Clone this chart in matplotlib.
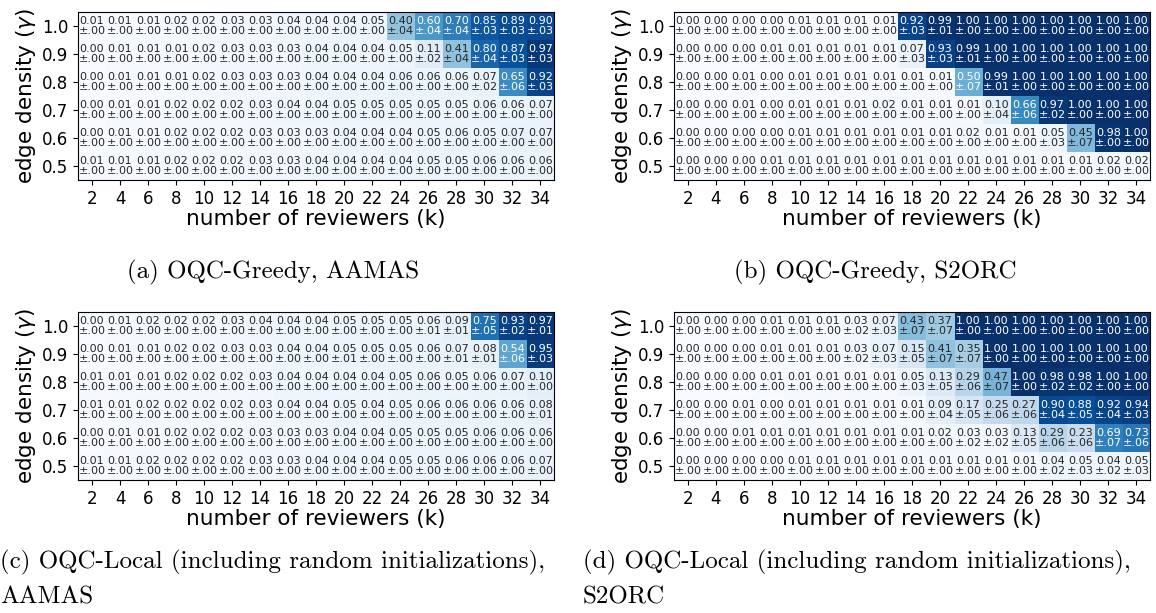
import numpy as np
import matplotlib
matplotlib.use('Agg')
import matplotlib.pyplot as plt
from matplotlib.colors import Normalize, to_rgb

# axes
k_values = [2, 4, 6, 8, 10, 12, 14, 16, 18, 20, 22, 24, 26, 28, 30, 32, 34]
gamma_values = [1.0, 0.9, 0.8, 0.7, 0.6, 0.5]

# (a) OQC-Greedy, AAMAS
greedy_aamas_mean = [
    [.01, .01, .01, .02, .02, .03, .03, .04, .04, .04, .05, .40, .60, .70, .85, .89, .90],
    [.00, .01, .01, .01, .02, .03, .03, .03, .04, .04, .04, .05, .11, .41, .80, .87, .97],
    [.00, .01, .01, .01, .02, .03, .03, .03, .04, .04, .04, .06, .06, .06, .07, .65, .92],
    [.00, .01, .01, .02, .02, .02, .03, .04, .04, .05, .05, .05, .05, .05, .06, .06, .07],
    [.00, .01, .01, .02, .02, .02, .03, .03, .03, .04, .04, .04, .05, .06, .05, .07, .07],
    [.01, .01, .01, .02, .02, .02, .03, .03, .04, .04, .04, .04, .05, .05, .06, .06, .06],
]
greedy_aamas_std = [
    [0, 0, 0, 0, 0, 0, 0, 0, 0, 0, 0, .04, .04, .04, .03, .03, .03],
    [0, 0, 0, 0, 0, 0, 0, 0, 0, 0, 0, 0, .02, .04, .04, .03, .03],
    [0, 0, 0, 0, 0, 0, 0, 0, 0, 0, 0, 0, 0, 0, .02, .06, .03],
    [0, 0, 0, 0, 0, 0, 0, 0, 0, 0, 0, 0, 0, 0, 0, 0, 0],
    [0, 0, 0, 0, 0, 0, 0, 0, 0, 0, 0, 0, 0, 0, 0, 0, 0],
    [0, 0, 0, 0, 0, 0, 0, 0, 0, 0, 0, 0, 0, 0, 0, 0, 0],
]

# (b) OQC-Greedy, S2ORC
greedy_s2orc_mean = [
    [.00, .00, .00, .00, .01, .01, .01, .01, .92, .99, 1.0, 1.0, 1.0, 1.0, 1.0, 1.0, 1.0],
    [.00, .00, .00, .01, .01, .01, .01, .01, .07, .93, .99, 1.0, 1.0, 1.0, 1.0, 1.0, 1.0],
    [.00, .00, .01, .00, .01, .01, .01, .01, .01, .01, .50, .99, 1.0, 1.0, 1.0, 1.0, 1.0],
    [.00, .00, .01, .00, .01, .01, .01, .02, .01, .01, .01, .10, .66, .97, 1.0, 1.0, 1.0],
    [.00, .00, .00, .00, .01, .01, .01, .01, .01, .01, .02, .01, .01, .05, .45, .98, 1.0],
    [.00, .00, .00, .01, .01, .01, .01, .01, .01, .01, .01, .01, .01, .01, .01, .02, .02],
]
greedy_s2orc_std = [
    [0, 0, 0, 0, 0, 0, 0, 0, .03, .01, 0, 0, 0, 0, 0, 0, 0],
    [0, 0, 0, 0, 0, 0, 0, 0, .03, .03, .01, 0, 0, 0, 0, 0, 0],
    [0, 0, 0, 0, 0, 0, 0, 0, 0, 0, .07, .01, 0, 0, 0, 0, 0],
    [0, 0, 0, 0, 0, 0, 0, 0, 0, 0, 0, .04, .06, .02, 0, 0, 0],
    [0, 0, 0, 0, 0, 0, 0, 0, 0, 0, 0, 0, 0, .03, .07, 0, 0],
    [0, 0, 0, 0, 0, 0, 0, 0, 0, 0, 0, 0, 0, 0, 0, 0, 0],
]

# (c) OQC-Local, AAMAS
local_aamas_mean = [
    [.00, .01, .02, .02, .02, .03, .04, .04, .04, .05, .05, .05, .06, .09, .75, .93, .97],
    [.00, .01, .01, .02, .02, .03, .03, .04, .04, .05, .05, .05, .06, .07, .08, .54, .95],
    [.01, .01, .01, .02, .02, .02, .03, .04, .04, .04, .04, .05, .06, .05, .06, .07, .10],
    [.01, .01, .02, .02, .02, .02, .03, .04, .04, .05, .04, .05, .06, .06, .06, .06, .08],
    [.00, .01, .01, .02, .02, .02, .03, .03, .03, .04, .04, .05, .05, .05, .06, .06, .06],
    [.01, .01, .02, .02, .02, .02, .03, .03, .04, .04, .04, .05, .05, .06, .06, .06, .07],
]
local_aamas_std = [
    [0, 0, 0, 0, 0, 0, 0, 0, 0, 0, 0, 0, .01, .01, .05, .02, .01],
    [0, 0, 0, 0, 0, 0, 0, 0, 0, .01, 0, 0, 0, .01, .01, .06, .03],
    [0, 0, 0, 0, 0, 0, 0, 0, 0, 0, 0, 0, 0, 0, 0, 0, 0],
    [0, 0, 0, 0, 0, 0, 0, 0, 0, 0, 0, 0, 0, 0, 0, 0, .01],
    [0, 0, 0, 0, 0, 0, 0, 0, 0, 0, 0, 0, 0, 0, 0, 0, 0],
    [0, 0, 0, 0, 0, 0, 0, 0, 0, 0, 0, 0, 0, 0, 0, 0, 0],
]

# (d) OQC-Local, S2ORC
local_s2orc_mean = [
    [.00, .00, .00, .01, .01, .01, .03, .07, .43, .37, 1.0, 1.0, 1.0, 1.0, 1.0, 1.0, 1.0],
    [.00, .00, .00, .01, .01, .01, .03, .07, .15, .41, .35, 1.0, 1.0, 1.0, 1.0, 1.0, 1.0],
    [.00, .00, .00, .01, .01, .01, .01, .01, .05, .13, .29, .47, 1.0, .98, .98, 1.0, 1.0],
    [.00, .00, .01, .00, .01, .01, .01, .01, .01, .09, .17, .25, .27, .90, .88, .92, .94],
    [.00, .00, .01, .01, .01, .01, .01, .01, .01, .02, .03, .03, .13, .29, .23, .69, .73],
    [.00, .00, .00, .00, .01, .01, .01, .01, .01, .01, .01, .01, .01, .04, .05, .04, .05],
]
local_s2orc_std = [
    [0, 0, 0, 0, 0, 0, .02, .03, .07, .07, 0, 0, 0, 0, 0, 0, 0],
    [0, 0, 0, 0, 0, 0, .02, .03, .05, .07, .07, 0, 0, 0, 0, 0, 0],
    [0, 0, 0, 0, 0, 0, 0, 0, .03, .05, .06, .07, 0, .02, .02, 0, 0],
    [0, 0, 0, 0, 0, 0, 0, 0, 0, .04, .05, .06, .06, .04, .05, .04, .03],
    [0, 0, 0, 0, 0, 0, 0, 0, 0, 0, .02, .02, .05, .06, .06, .07, .06],
    [0, 0, 0, 0, 0, 0, 0, 0, 0, 0, 0, 0, 0, .02, .03, .02, .03],
]

panels = [
    (greedy_aamas_mean, greedy_aamas_std),
    (greedy_s2orc_mean, greedy_s2orc_std),
    (local_aamas_mean, local_aamas_std),
    (local_s2orc_mean, local_s2orc_std),
]

cmap = plt.get_cmap('Blues')
norm = Normalize(0, 1)


def luminance(c):
    rgb = np.array(to_rgb(c))
    rgb = np.where(rgb <= .03928, rgb / 12.92, ((rgb + .055) / 1.055) ** 2.4)
    return rgb.dot([.2126, .7152, .0722])


fig = plt.figure(figsize=(11.56, 6.13), dpi=100)

# axes positions (left, bottom) in figure fractions
positions = [(0.0675, 0.706), (0.583, 0.706), (0.0675, 0.217), (0.583, 0.217)]
w, h = 0.412, 0.274

for (mean, std), (x0, y0) in zip(panels, positions):
    ax = fig.add_axes([x0, y0, w, h])
    m = np.array(mean)
    s = np.array(std)
    ax.imshow(m, cmap=cmap, norm=norm, aspect='auto', interpolation='nearest')
    for i in range(m.shape[0]):
        for j in range(m.shape[1]):
            col = 'white' if luminance(cmap(norm(m[i, j]))) < .408 else '#262626'
            label = '%.2f\n±%s' % (m[i, j], ('%.2f' % s[i, j])[1:])
            ax.text(j, i, label, ha='center', va='center', fontsize=8,
                    color=col, linespacing=1.0)
    ax.set_xticks(range(len(k_values)))
    ax.set_xticklabels([str(v) for v in k_values], fontsize=12)
    ax.set_yticks(range(len(gamma_values)))
    ax.set_yticklabels(['%.1f' % v for v in gamma_values], fontsize=12)
    ax.set_xlabel('number of reviewers (k)', fontsize=15.5, labelpad=1)
    ax.set_ylabel(r'edge density ($\gamma$)', fontsize=15.5, labelpad=3)
    for sp in ax.spines.values():
        sp.set_linewidth(0.8)

cap = dict(fontsize=18, family='cmr10')
fig.text(0.236, 0.556, '(a) OQC-Greedy, AAMAS', ha='center', va='center', **cap)
fig.text(0.757, 0.556, '(b) OQC-Greedy, S2ORC', ha='center', va='center', **cap)
fig.text(0.0, 0.082, '(c) OQC-Local (including random initializations),',
         ha='left', va='center', **cap)
fig.text(0.0, 0.025, 'AAMAS', ha='left', va='center', **cap)
fig.text(0.504, 0.082, '(d) OQC-Local (including random initializations),',
         ha='left', va='center', **cap)
fig.text(0.504, 0.025, 'S2ORC', ha='left', va='center', **cap)

fig.savefig('out.png', dpi=100)
